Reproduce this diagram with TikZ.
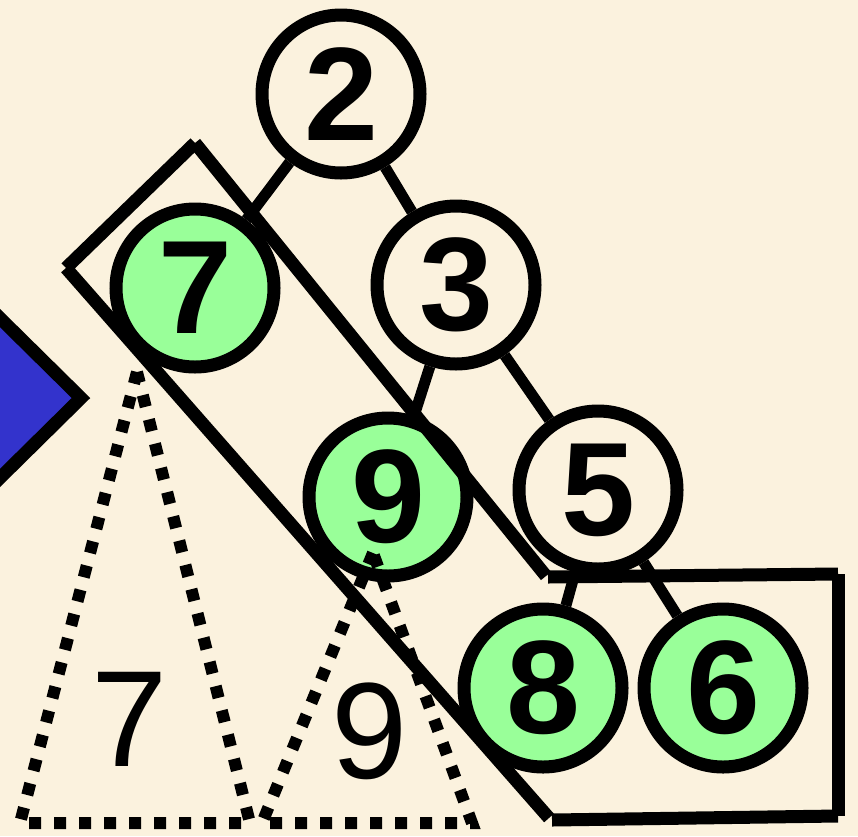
\documentclass[tikz,border=0pt]{standalone}
\usepackage{fontspec}
\setmainfont{Liberation Sans}
\definecolor{bg}{HTML}{FBF2DE}
\definecolor{leaf}{HTML}{99FF99}
\definecolor{arrowblue}{HTML}{3333CC}
\begin{document}
\begin{tikzpicture}[x=1pt,y=-1pt,
  treenode/.style={circle,draw=black,line width=13pt,minimum size=158pt,inner sep=0pt,
    font=\fontsize{133}{133}\selectfont\bfseries},
  plainnode/.style={treenode,fill=bg},
  leafnode/.style={treenode,fill=leaf},
  edge/.style={line width=11pt},
  frame/.style={line width=13pt,line cap=butt},
  dotline/.style={line width=12pt,dash pattern=on 12pt off 13pt},
  sublabel/.style={font=\fontsize{137}{137}\selectfont,inner sep=0pt}]
\useasboundingbox (0,0) rectangle (858,836);
\fill[bg] (0,0) rectangle (858,836);
\begin{scope}
\clip (0,0) rectangle (858,836);
\draw[fill=arrowblue,line width=13pt,line join=miter] (-140,180) -- (81,398) -- (-140,616);
\end{scope}
% node positions
\coordinate (p2) at (341,94);
\coordinate (p7) at (195,288);
\coordinate (p3) at (456,285);
\coordinate (p9) at (388,497);
\coordinate (p5) at (598,490);
\coordinate (p8) at (543,688);
\coordinate (p6) at (723,688);
% edges (drawn first, nodes cover their ends)
\path (p2) node[plainnode] (n2) {2}
      (p7) node[leafnode] (n7) {7}
      (p3) node[plainnode] (n3) {3}
      (p9) node[leafnode] (n9) {9}
      (p5) node[plainnode] (n5) {5}
      (p8) node[leafnode] (n8) {8}
      (p6) node[leafnode] (n6) {6};
\draw[edge] (n2) -- (n7);
\draw[edge] (n2) -- (n3);
\draw[edge] (n3) -- (n9);
\draw[edge] (n3) -- (n5);
\draw[edge] (n5) -- (n8);
\draw[edge] (n5) -- (n6);
% subtree triangles
\coordinate (t7a) at (137,372);
\coordinate (t7l) at (20,823);
\coordinate (t7r) at (250,823);
\coordinate (t9a) at (373,553);
\coordinate (t9l) at (262,823);
\coordinate (t9r) at (472,823);
\draw[dotline] (t7a) -- (t7l) -- (t7r) -- cycle;
\draw[dotline] (t9a) -- (t9l) -- (t9r) -- cycle;
\node[sublabel] (l7) at (130,719) {7};
\node[sublabel] (l9) at (370,731) {9};
% frame
\coordinate (fa) at (195,143);
\coordinate (fb) at (66,268);
\coordinate (fc) at (546,576);
\coordinate (fd) at (549,818);
\coordinate (rtl) at (548,577);
\coordinate (rtr) at (838,574);
\coordinate (rbr) at (838,816);
\coordinate (rbl) at (552,820);
\draw[frame] (fb) -- (fa);
\draw[frame] (fa) -- (fc);
\draw[frame] (fb) -- (fd);
\draw[frame] (rtl) -- (rtr);
\draw[frame] (rtr) -- (rbr);
\draw[frame] (rbr) -- (rbl);
\end{tikzpicture}
\end{document}
